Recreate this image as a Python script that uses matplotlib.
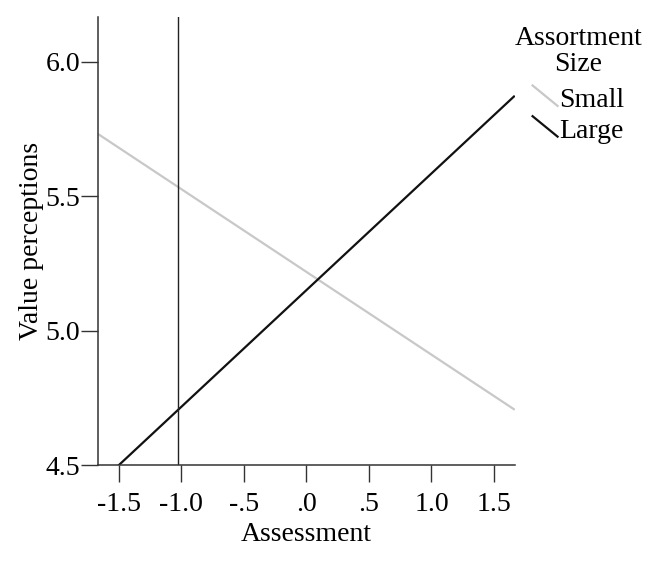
import matplotlib
matplotlib.use("Agg")
import matplotlib.pyplot as plt
from matplotlib.legend_handler import HandlerBase
from matplotlib.lines import Line2D

plt.rcParams['font.family'] = ['Liberation Serif', 'DejaVu Serif']

# x range of the plotted regression lines (assessment, centred)
x_range = [-1.666, 1.666]
# predicted value perceptions at the ends of the x range
small_vals = [5.731, 4.706]
large_vals = [4.428, 5.873]
group_names = ['Small', 'Large']
group_colors = ['#c8c8c8', '#111111']
# Johnson-Neyman style boundary
jn_x = -1.027

x_ticks = [-1.5, -1.0, -0.5, 0.0, 0.5, 1.0, 1.5]
x_ticklabels = ['-1.5', '-1.0', '-.5', '.0', '.5', '1.0', '1.5']
y_ticks = [4.5, 5.0, 5.5, 6.0]
y_ticklabels = ['4.5', '5.0', '5.5', '6.0']

FS = 20


class DiagHandler(HandlerBase):
    # short down-slanting stroke like the SPSS legend
    def create_artists(self, legend, orig_handle, xdescent, ydescent,
                       width, height, fontsize, trans):
        ln = Line2D([-xdescent, -xdescent + width],
                    [-ydescent + height * 1.1, -ydescent + height * 0.05],
                    color=orig_handle.get_color(),
                    linewidth=orig_handle.get_linewidth())
        ln.set_transform(trans)
        return [ln]


fig = plt.figure(figsize=(6.52, 5.63), dpi=100)
ax = fig.add_axes([0.1503, 0.1737, 0.6392, 0.7953])

handles = []
for vals, name, col in zip([small_vals, large_vals], group_names, group_colors):
    h, = ax.plot(x_range, vals, color=col, linewidth=1.6, label=name,
                 solid_capstyle='butt')
    handles.append(h)

ax.axvline(jn_x, color='#222222', linewidth=1.0)

ax.set_xlim(x_range)
ax.set_ylim(4.5, 6.164)

ax.set_xticks(x_ticks)
ax.set_xticklabels(x_ticklabels)
ax.set_yticks(y_ticks)
ax.set_yticklabels(y_ticklabels)

for side in ['top', 'right']:
    ax.spines[side].set_visible(False)
for side in ['left', 'bottom']:
    ax.spines[side].set_color('#333333')
    ax.spines[side].set_linewidth(1.1)

ax.tick_params(axis='both', direction='out', length=12.5, width=1.0,
               color='#333333', labelsize=FS, pad=0.5)
ax.tick_params(axis='x', pad=6.5)

ax.set_xlabel('Assessment', fontsize=FS, labelpad=4)
ax.set_ylabel('Value perceptions', fontsize=FS, labelpad=1)

leg = fig.legend(handles=handles, labels=group_names,
                 title='Assortment\nSize', loc='upper center',
                 bbox_to_anchor=(0.887, 0.988), frameon=False,
                 fontsize=FS, title_fontsize=FS, alignment='center',
                 handler_map={Line2D: DiagHandler()},
                 handlelength=0.9, handletextpad=0.05, labelspacing=0.19,
                 borderpad=0.2)
leg.get_title().set_multialignment('center')
leg.get_title().set_linespacing(1.05)
# a little more room between the title and the entries
leg._legend_box.sep = 7.4

fig.savefig('out.png', dpi=100)
